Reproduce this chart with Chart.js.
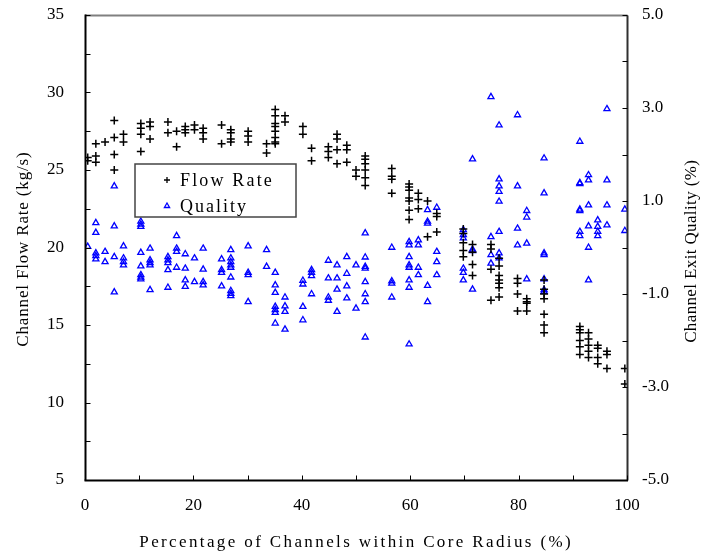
<!DOCTYPE html>
<html>
<head>
<meta charset="utf-8">
<script src="https://cdn.jsdelivr.net/npm/chart.js@4.4.0/dist/chart.umd.min.js"></script>
<style>
  html, body { margin: 0; padding: 0; background: #fff; }
  #wrap { width: 703px; height: 559px; }
</style>
</head>
<body>
<div id="wrap"><canvas id="chart" width="703" height="559"></canvas></div>
<script>
// Flow rate: channel position (%) and the flow rates read at that position (kg/s)
const flowPos = [0.5, 2.0, 3.7, 5.4, 7.1, 10.3, 12.0, 15.3, 16.9, 18.5, 20.2, 21.8, 25.2, 26.9, 30.1, 33.5, 35.1, 36.9, 40.2, 41.8,
    44.9, 46.5, 48.3, 50.0, 51.7, 56.6, 59.8, 61.5, 63.2, 64.9, 69.8, 71.5, 74.9, 76.4, 79.8, 81.5, 84.7, 91.3, 92.9, 94.6, 96.3, 99.6];
const flowRate = [
    [25.8, 25.6], [26.7, 25.9, 25.5], [26.8], [28.2, 27.1, 26.0, 25.0], [27.3, 26.8],
    [28.0, 27.7, 27.3, 26.2], [28.1, 27.8, 27.0], [28.1, 27.4], [27.5, 26.5], [27.8, 27.6, 27.4],
    [27.9, 27.6], [27.7, 27.4, 27.0], [27.9, 26.7], [27.6, 27.4, 27.0, 26.8], [27.5, 27.2, 26.8],
    [26.7, 26.1], [28.9, 28.5, 28.0, 27.8, 27.5, 27.1, 26.8, 26.7], [28.5, 28.1], [27.8, 27.3], [26.4, 25.6],
    [26.5, 26.2, 25.8], [27.3, 27.0, 26.3, 25.4], [26.6, 26.3, 25.5], [25.0, 24.6], [25.9, 25.7, 25.4, 25.0, 24.5, 24.0],
    [25.1, 24.6, 24.4, 23.5], [24.1, 23.9, 23.7, 23.2, 23.0, 22.4, 21.8], [23.5, 23.1, 22.5], [23.0, 20.7], [22.2, 22.0, 21.0],
    [21.2, 20.9, 20.3, 19.8, 19.4], [20.2, 19.7, 18.9, 18.2], [20.2, 19.9, 18.6, 16.6], [19.3, 18.8, 18.2, 17.9, 17.7, 17.4, 16.8],
    [18.0, 17.7, 17.0, 15.9], [16.7, 16.5, 16.4, 15.9], [17.9, 17.3, 17.0, 16.7, 15.7, 15.0, 14.5],
    [14.9, 14.7, 14.5, 14.0, 13.6, 13.1], [14.5, 14.1, 13.7, 13.3, 12.9], [13.7, 13.5, 12.9, 12.5], [13.3, 13.1, 12.2], [12.2, 11.2]
];

// Exit quality: channel position (%) and the qualities read at that position (%)
const qualityPos = [0.5, 2.0, 3.7, 5.4, 7.1, 10.3, 12.0, 15.3, 16.9, 18.5, 20.2, 21.8, 25.2, 26.9, 30.1, 33.5, 35.1, 36.9, 40.2, 41.8,
    44.9, 46.5, 48.3, 50.0, 51.7, 56.6, 59.8, 61.5, 63.2, 64.9, 69.8, 71.5, 74.9, 76.4, 79.8, 81.5, 84.7, 91.3, 92.9, 94.6, 96.3, 99.6];
const quality = [
    [0.02], [0.53, 0.32, -0.12, -0.18, -0.25], [-0.09, -0.31], [1.32, 0.46, -0.20, -0.96], [0.03, -0.23, -0.31, -0.38],
    [0.56, 0.50, 0.45, -0.11, -0.40, -0.59, -0.64, -0.68], [-0.02, -0.27, -0.33, -0.38, -0.91], [-0.20, -0.27, -0.33, -0.48, -0.86],
    [0.25, -0.02, -0.09, -0.43], [-0.14, -0.45, -0.70, -0.84], [-0.23, -0.74], [-0.02, -0.47, -0.74, -0.81],
    [-0.25, -0.48, -0.54, -0.83], [-0.05, -0.23, -0.31, -0.38, -0.43, -0.64, -0.93, -0.99, -1.04], [0.03, -0.54, -0.59, -1.17],
    [-0.05, -0.41], [-0.54, -0.81, -0.97, -1.27, -1.34, -1.40, -1.63], [-1.07, -1.26, -1.38, -1.76], [-0.71, -0.79, -1.27, -1.56],
    [-0.48, -0.54, -0.61, -1.00], [-0.28, -0.66, -1.07, -1.14], [-0.38, -0.66, -0.90, -1.38], [-0.20, -0.56, -0.83, -1.09],
    [-0.38, -1.31], [0.31, -0.21, -0.41, -0.45, -0.74, -1.00, -1.17, -1.93], [0.00, -0.72, -0.77, -1.07],
    [0.12, 0.05, -0.20, -0.38, -0.43, -0.70, -0.86, -2.08], [0.16, 0.05, -0.43, -0.59], [0.81, 0.56, 0.52, -0.82, -1.17],
    [0.86, -0.09, -0.31, -0.59], [0.38, 0.27, 0.20, -0.45, -0.54, -0.70], [1.90, -0.04, -0.07, -0.90], [3.24, 0.23, -0.16, -0.34],
    [2.63, 1.47, 1.32, 1.20, 0.99, 0.34, -0.12, -0.23], [2.85, 1.32, 0.41, 0.05], [0.79, 0.65, 0.09, -0.68],
    [1.92, 1.17, -0.12, -0.16, -0.68, -0.91, -0.95], [2.28, 1.39, 1.37, 0.82, 0.79, 0.34, 0.25], [1.56, 1.45, 0.91, 0.46, 0.00, -0.70],
    [0.59, 0.45, 0.34, 0.25], [2.98, 1.45, 0.91, 0.48], [0.82, 0.36]
];

// Tick labels
const xTicks = [0, 20, 40, 60, 80, 100];
const flowTicks = [5, 10, 15, 20, 25, 30, 35];
const qualityTicks = [-5, -3, -1, 1, 3, 5];

const FONT = "'Liberation Serif', 'Times New Roman', serif";

function toPoints(pos, vals) {
    const pts = [];
    pos.forEach((p, i) => vals[i].forEach(v => pts.push({ x: p, y: v })));
    return pts;
}

function setTicks(list) {
    return scale => { scale.ticks = list.map(v => ({ value: v })); };
}

// fixed box sizes so the plot area lands where the reference has it
function fitVertical(width) {
    return s => { s.width = width; s.paddingTop = 0; s.paddingBottom = 0; };
}

// stretch text to the width it has in the reference (the original is letter-spaced)
function spacedText(ctx, text, x, y, width) {
    ctx.letterSpacing = '0px';
    const plain = ctx.measureText(text).width;
    const sp = Math.max(0, (width - plain) / text.length);
    ctx.letterSpacing = sp.toFixed(2) + 'px';
    const dx = ctx.textAlign === 'center' ? sp / 2 : 0;
    ctx.fillText(text, x + dx, y);
}

function line(ctx, x1, y1, x2, y2, color, width) {
    ctx.strokeStyle = color;
    ctx.lineWidth = width;
    ctx.beginPath();
    ctx.moveTo(x1, y1);
    ctx.lineTo(x2, y2);
    ctx.stroke();
}

// Frame, inward tick marks, titles and the boxed legend
const decorations = {
    id: 'decorations',
    afterDatasetsDraw(chart) {
        const { ctx, chartArea: a, scales } = chart;
        ctx.save();

        const L = Math.round(a.left) + 0.5, R = Math.round(a.right) + 0.5;
        const T = Math.round(a.top) + 0.5, B = Math.round(a.bottom) + 0.5;
        line(ctx, L - 0.5, T, R, T, '#808080', 2);
        line(ctx, R, T, R, B, '#303030', 2);
        line(ctx, L, T - 1, L, B, '#000', 2);
        line(ctx, L - 1, B, R + 0.5, B, '#000', 2);

        ctx.strokeStyle = '#000';
        ctx.lineWidth = 1;
        ctx.beginPath();
        for (let v = 0; v <= 100; v += 10) {
            const x = Math.round(scales.x.getPixelForValue(v)) + 0.5;
            ctx.moveTo(x, B);
            ctx.lineTo(x, B - 5);
        }
        for (let v = 5; v <= 35; v += 2.5) {
            const y = Math.round(scales.y.getPixelForValue(v)) + 0.5;
            ctx.moveTo(L, y);
            ctx.lineTo(L + 5, y);
        }
        for (let v = -5; v <= 5; v += 1) {
            const y = Math.round(scales.y2.getPixelForValue(v)) + 0.5;
            ctx.moveTo(R, y);
            ctx.lineTo(R - 5, y);
        }
        ctx.stroke();

        // axis titles
        ctx.fillStyle = '#000';
        ctx.textAlign = 'center';
        ctx.textBaseline = 'middle';
        ctx.font = '17px ' + FONT;
        const midY = (a.top + a.bottom) / 2;
        ctx.save();
        ctx.translate(24, midY + 2);
        ctx.rotate(-Math.PI / 2);
        spacedText(ctx, 'Channel Flow Rate (kg/s)', 0, 0, 195);
        ctx.restore();
        ctx.save();
        ctx.translate(692, midY + 4);
        ctx.rotate(-Math.PI / 2);
        spacedText(ctx, 'Channel Exit Quality (%)', 0, 0, 183);
        ctx.restore();
        spacedText(ctx, 'Percentage of Channels within Core Radius (%)', 355, 543, 434);

        // legend box
        const box = { x: 135, y: 164, w: 161, h: 53 };
        ctx.fillStyle = '#fff';
        ctx.fillRect(box.x, box.y, box.w, box.h);
        ctx.strokeStyle = '#444';
        ctx.lineWidth = 1.5;
        ctx.strokeRect(box.x, box.y, box.w, box.h);
        ctx.font = '18px ' + FONT;
        ctx.textAlign = 'left';
        const legendWidths = [94, 68];
        chart.data.datasets.forEach((ds, i) => {
            const y = box.y + 16 + i * 26;
            ctx.strokeStyle = ds.borderColor;
            ctx.fillStyle = 'rgba(0,0,0,0)';
            ctx.lineWidth = 1.3;
            Chart.helpers.drawPoint(ctx, { pointStyle: ds.pointStyle, radius: 3, rotation: 0, borderWidth: 1.3 }, 167, y);
            ctx.fillStyle = '#000';
            spacedText(ctx, ds.label, 180, y + 1, legendWidths[i]);
        });
        ctx.restore();
    }
};

const ctx = document.getElementById('chart').getContext('2d');
new Chart(ctx, {
    type: 'scatter',
    data: {
        datasets: [{
            label: 'Flow Rate',
            data: toPoints(flowPos, flowRate),
            yAxisID: 'y',
            pointStyle: 'cross',
            pointRadius: 4,
            borderWidth: 1.5,
            borderColor: '#000',
            backgroundColor: '#000'
        }, {
            label: 'Quality',
            data: toPoints(qualityPos, quality),
            yAxisID: 'y2',
            pointStyle: 'triangle',
            pointRadius: 3.5,
            borderWidth: 1.3,
            borderColor: '#0000ff',
            backgroundColor: 'rgba(255,255,255,0)'
        }]
    },
    options: {
        responsive: false,
        animation: false,
        layout: { padding: { top: 15, left: 0, right: 0, bottom: 0 } },
        plugins: {
            legend: { display: false },
            tooltip: { enabled: false }
        },
        scales: {
            x: {
                type: 'linear',
                min: 0,
                max: 100,
                afterBuildTicks: setTicks(xTicks),
                afterFit: s => { s.height = 79; s.paddingLeft = 0; s.paddingRight = 0; },
                grid: { display: false, drawTicks: false, tickLength: 0 },
                border: { display: false },
                ticks: { color: '#000', padding: 15, maxRotation: 0, font: { family: FONT, size: 17 } }
            },
            y: {
                position: 'left',
                min: 5,
                max: 35,
                afterBuildTicks: setTicks(flowTicks),
                afterFit: fitVertical(85),
                grid: { display: false, drawTicks: false, tickLength: 0 },
                border: { display: false },
                ticks: { color: '#000', padding: 21, font: { family: FONT, size: 17 } }
            },
            y2: {
                position: 'right',
                min: -5,
                max: 5,
                afterBuildTicks: setTicks(qualityTicks),
                afterFit: fitVertical(76),
                grid: { display: false, drawTicks: false, tickLength: 0 },
                border: { display: false },
                ticks: { color: '#000', padding: 15, font: { family: FONT, size: 17 }, callback: v => v.toFixed(1) }
            }
        }
    },
    plugins: [decorations]
});
</script>
</body>
</html>
